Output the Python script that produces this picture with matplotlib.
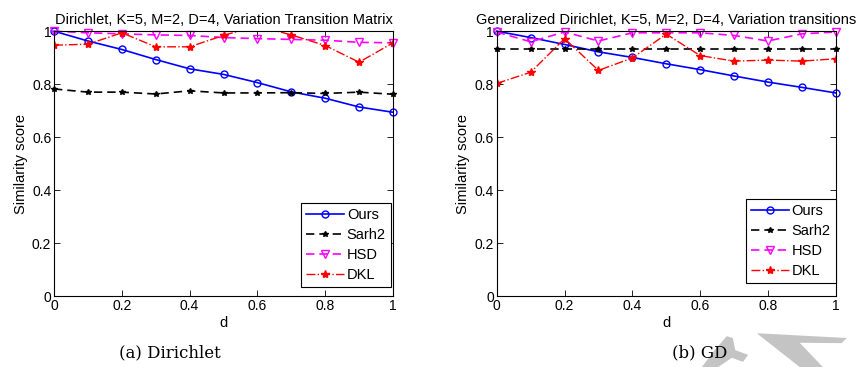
import matplotlib
matplotlib.use("Agg")
import matplotlib.pyplot as plt
from matplotlib.patches import Polygon

plt.rcParams['font.family'] = ['Liberation Sans', 'DejaVu Sans']

d = [0, 0.1, 0.2, 0.3, 0.4, 0.5, 0.6, 0.7, 0.8, 0.9, 1.0]

# (a) Dirichlet
ours_a = [1.0, 0.963, 0.931, 0.893, 0.858, 0.837, 0.806, 0.771, 0.747, 0.714, 0.694]
sarh2_a = [0.782, 0.770, 0.770, 0.763, 0.775, 0.767, 0.767, 0.768, 0.765, 0.770, 0.762]
hsd_a = [1.0, 0.994, 0.990, 0.986, 0.984, 0.976, 0.972, 0.969, 0.966, 0.958, 0.956]
dkl_a = [0.947, 0.951, 0.994, 0.941, 0.941, 0.984, 1.02, 0.986, 0.946, 0.883, 0.956]

# (b) GD
ours_b = [1.0, 0.976, 0.950, 0.922, 0.901, 0.877, 0.855, 0.831, 0.808, 0.788, 0.767]
sarh2_b = [0.933, 0.933, 0.933, 0.933, 0.933, 0.933, 0.933, 0.933, 0.933, 0.933, 0.933]
hsd_b = [0.997, 0.960, 0.997, 0.963, 0.994, 0.994, 0.994, 0.984, 0.963, 0.990, 0.997]
dkl_b = [0.803, 0.845, 0.972, 0.852, 0.899, 0.989, 0.908, 0.887, 0.891, 0.887, 0.896]

titles = ["Dirichlet, K=5, M=2, D=4, Variation Transition Matrix",
          "Generalized Dirichlet, K=5, M=2, D=4, Variation transitions"]
captions = ["(a) Dirichlet", "(b) GD"]
ticks = [0, 0.2, 0.4, 0.6, 0.8, 1]
ticklabels = ["0", "0.2", "0.4", "0.6", "0.8", "1"]

fig = plt.figure(figsize=(8.58, 3.67), dpi=100)
ax1 = fig.add_axes([0.063, 0.193, 0.395, 0.722])
ax2 = fig.add_axes([0.579, 0.193, 0.395, 0.722])

panels = [(ax1, ours_a, sarh2_a, hsd_a, dkl_a), (ax2, ours_b, sarh2_b, hsd_b, dkl_b)]
legend_anchor = [(0.994, 0.034), (1.0, 0.049)]

for i, (ax, ours, sarh2, hsd, dkl) in enumerate(panels):
    ax.plot(d, ours, color='b', linestyle='-', marker='o', markerfacecolor='none',
            markersize=5, lw=1.2, label='Ours', clip_on=False)
    ax.plot(d, sarh2, color='k', linestyle='--', marker='*', markersize=4,
            lw=1.2, label='Sarh2', dashes=(5, 3), clip_on=False)
    ax.plot(d, hsd, color='magenta', linestyle='--', marker='v', markerfacecolor='none',
            markersize=6, lw=1.2, label='HSD', dashes=(5, 3), clip_on=False)
    ax.plot(d, dkl, color='r', linestyle='-.', marker='*', markersize=6,
            lw=1.0, label='DKL')
    ax.set_xlim(0, 1)
    ax.set_ylim(0, 1)
    ax.set_xticks(ticks)
    ax.set_xticklabels(ticklabels)
    ax.set_yticks(ticks)
    ax.set_yticklabels(ticklabels)
    ax.tick_params(direction='in', top=True, right=True, labelsize=10, length=4, width=0.6, pad=2)
    for s in ax.spines.values():
        s.set_linewidth(0.8)
    ax.set_title(titles[i], fontsize=10.5, pad=5)
    ax.set_xlabel('d', fontsize=10.5, labelpad=2)
    ax.set_ylabel('Similarity score', fontsize=10.5, labelpad=3)
    leg = ax.legend(loc='lower right', bbox_to_anchor=legend_anchor[i], fontsize=10.5,
                    handlelength=2.6, borderpad=0.35, labelspacing=0.42,
                    handletextpad=0.2, fancybox=False, framealpha=1,
                    edgecolor='k', borderaxespad=0)
    leg.get_frame().set_linewidth(0.8)

fig.text(0.198, 0.025, captions[0], fontsize=12, family='DejaVu Serif', ha='center')
fig.text(0.815, 0.025, captions[1], fontsize=12, family='DejaVu Serif', ha='center')

# light gray watermark strokes
wm = '#c4c4c4'
hook = [[0.818, 0.0], [0.833, 0.046], [0.847, 0.084], [0.854, 0.079], [0.857, 0.046],
        [0.872, 0.033], [0.866, 0.014], [0.853, 0.025], [0.837, 0.0]]
bar = [[0.882, 0.092], [0.987, 0.079], [0.981, 0.065], [0.932, 0.066],
       [0.959, 0.0], [0.932, 0.0]]
for pts in (hook, bar):
    fig.patches.append(Polygon(pts, closed=True, color=wm, lw=0,
                               transform=fig.transFigure, figure=fig, zorder=0))

plt.savefig("out.png", dpi=100)
